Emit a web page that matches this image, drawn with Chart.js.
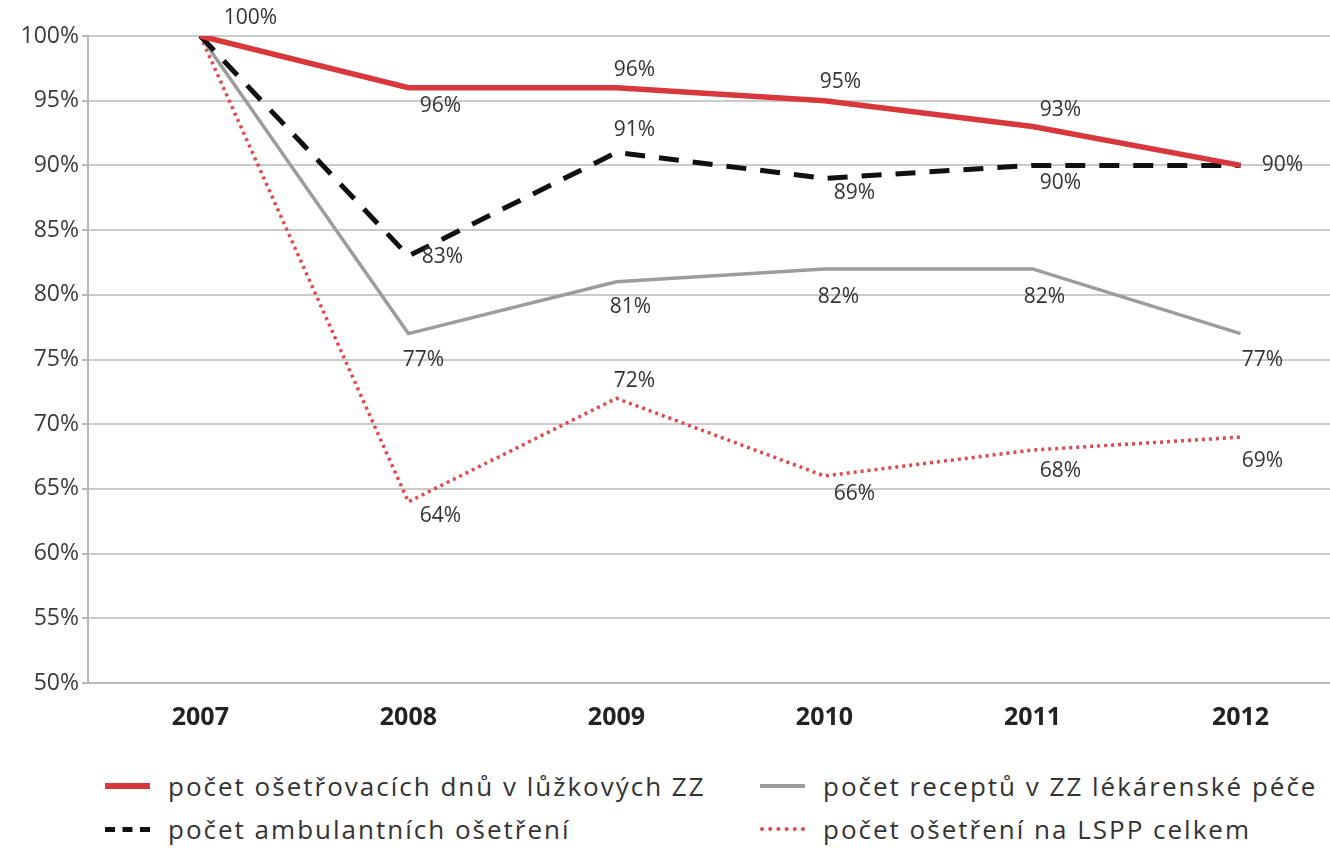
<!DOCTYPE html>
<html>
<head>
<meta charset="utf-8">
<script src="https://cdn.jsdelivr.net/npm/chart.js@4.4.1/dist/chart.umd.min.js"></script>
<style>
  body{margin:0;background:#fff;width:1330px;height:848px;overflow:hidden;font-family:"Open Sans",sans-serif;}
  #wrap{position:relative;width:1330px;height:750px;}
  #legend{position:absolute;left:0;top:760px;width:1330px;height:88px;color:#333;font-size:26px;letter-spacing:2px;}
  .item{position:absolute;display:flex;align-items:center;white-space:nowrap;}
  .sw{display:inline-block;width:45px;height:0;margin-right:18px;}
</style>
</head>
<body>
<div id="wrap"><canvas id="myChart" width="1330" height="750"></canvas></div>
<div id="legend"></div>
<script>
const years=[2007,2008,2009,2010,2011,2012];
const yTicks=[50,55,60,65,70,75,80,85,90,95,100];
const bedDays=[100,96,96,95,93,90];
const prescriptions=[100,77,81,82,82,77];
const outpatient=[100,83,91,89,90,90];
const emergency=[100,64,72,66,68,69];
const seriesNames=["počet ošetřovacích dnů v lůžkových ZZ","počet receptů v ZZ lékárenské péče","počet ambulantních ošetření","počet ošetření na LSPP celkem"];

const toPts=(vals)=>vals.map((v,i)=>({x:years[i],y:v}));

// posuny popisků v px (null = bez popisku)
const offRed=[[50,-18],[32,18],[18,-18],[16,-19],[28,-17],null];
const offGray=[null,[15,26],[14,25],[14,28],[12,28],[22,26]];
const offBlack=[null,[34,1],[18,-22],[30,15],[28,18],[42,0]];
const offDot=[null,[32,14],[18,-17],[30,18],[28,21],[22,24]];

const labelPlugin={
  id:"pctLabels",
  afterDatasetsDraw(chart){
    const ctx=chart.ctx;
    ctx.save();
    ctx.font='21px "Open Sans", sans-serif';
    ctx.fillStyle="#333";
    ctx.textAlign="center";
    ctx.textBaseline="middle";
    chart.data.datasets.forEach((ds,di)=>{
      const meta=chart.getDatasetMeta(di);
      meta.data.forEach((pt,i)=>{
        const o=ds.labelOff[i];
        if(!o)return;
        ctx.fillText(ds.data[i].y+"%",pt.x+o[0],pt.y+o[1]);
      })
    })
    ctx.restore();
  }
};

const datasets=[
  {label:seriesNames[0],data:toPts(bedDays),borderColor:"#d8383b",borderWidth:5.5,labelOff:offRed,order:1},
  {label:seriesNames[1],data:toPts(prescriptions),borderColor:"#9a9c9e",borderWidth:3.5,labelOff:offGray,order:3},
  {label:seriesNames[2],data:toPts(outpatient),borderColor:"#111",borderWidth:5,borderDash:[20,14],labelOff:offBlack,order:2},
  {label:seriesNames[3],data:toPts(emergency),borderColor:"#e2474c",borderWidth:3.5,borderDash:[3,4],labelOff:offDot,order:4}
];
datasets.forEach(d=>{d.pointRadius=0;d.tension=0;d.fill=false;d.borderJoinStyle="miter";});

const ctx=document.getElementById("myChart").getContext("2d");
const myChart=new Chart(ctx,{
  type:"line",
  data:{datasets:datasets},
  plugins:[labelPlugin],
  options:{
    responsive:false,
    animation:false,
    layout:{padding:{top:36,right:0,left:0,bottom:0}},
    plugins:{legend:{display:false},tooltip:{enabled:false}},
    scales:{
      x:{
        type:"linear",min:2006.46,max:2012.43,
        afterBuildTicks:(s)=>{s.ticks=years.map(v=>({value:v}))},
        afterFit:(s)=>{s.height=67},
        grid:{display:false},
        border:{color:"#b8b8b8",width:2},
        ticks:{color:"#222",font:{family:"Open Sans",size:25,weight:"bold"},padding:12,maxRotation:0,autoSkip:false,callback:(v)=>String(v)}
      },
      y:{
        min:50,max:100,
        afterBuildTicks:(s)=>{s.ticks=yTicks.map(v=>({value:v}))},
        afterFit:(s)=>{s.width=88},
        grid:{color:"#cbcbcb",lineWidth:2,tickLength:6,tickColor:"#b8b8b8"},
        border:{color:"#b8b8b8",width:2},
        ticks:{color:"#3a3a3a",font:{family:"Open Sans",size:23},padding:3,autoSkip:false,callback:(v)=>v+"%"}
      }
    }
  }
});

// legenda ve dvou sloupcích
const legendPos=[[105,787],[760,787],[105,830],[760,830]];
const legend=document.querySelector("#legend");
datasets.forEach((d,i)=>{
  const el=document.createElement("div");
  el.className="item";
  el.style.left=legendPos[i][0]+"px";
  el.style.top=(legendPos[i][1]-760-19)+"px";
  let border;
  if(i==2)border=`5px dashed ${d.borderColor}`;
  else if(i==3)border=`4px dotted ${d.borderColor}`;
  else border=`${i==0?6:4}px solid ${d.borderColor}`;
  el.innerHTML=`<span class="sw" style="border-top:${border}"></span><span>${d.label}</span>`;
  legend.appendChild(el);
})
</script>
</body>
</html>
